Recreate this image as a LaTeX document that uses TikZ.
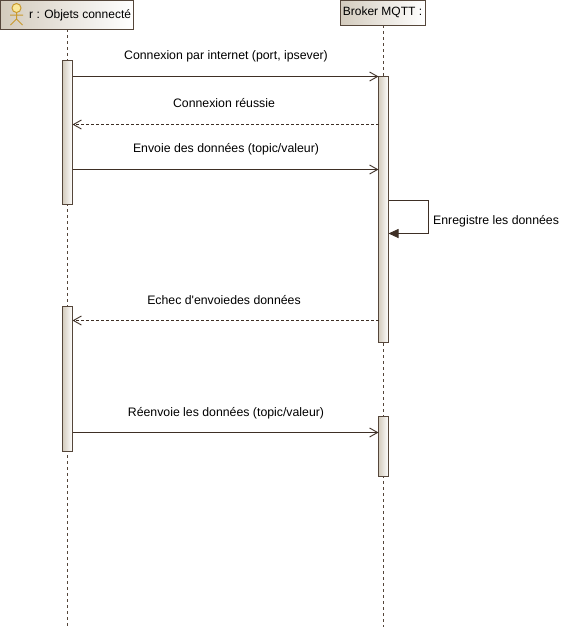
\documentclass[tikz,border=0pt]{standalone}
\usepackage{fontspec}
\setmainfont{Liberation Sans}
\usetikzlibrary{arrows.meta}

\definecolor{umlline}{HTML}{55463A}
\definecolor{umlarrow}{HTML}{3E2F25}
\definecolor{umltan}{HTML}{D3CBBD}
\definecolor{actorgold}{HTML}{C99A2E}
\definecolor{actorhead}{HTML}{FBE89A}

\tikzset{
	lifebox/.style={shape=rectangle,draw=umlline,line width=1pt,left color=umltan,right color=white,inner sep=0pt,outer sep=0pt,minimum height=25pt,font=\fontsize{12}{14}\selectfont},
	activation/.style={shape=rectangle,draw=umlline,line width=1pt,left color=umltan,right color=white,inner sep=0pt,outer sep=0pt,minimum width=10pt},
	lifeline/.style={color=umlline,line width=0.8pt,dash pattern=on 3pt off 3pt},
	msgsync/.style={-{Straight Barb[length=8pt,width=9pt]},color=umlarrow,line width=0.9pt},
	msgreply/.style={-{Straight Barb[length=8pt,width=9pt]},color=umlarrow,line width=0.9pt,dash pattern=on 3pt off 2pt},
	msgself/.style={-{Triangle[length=10pt,width=9pt]},color=umlarrow,line width=0.9pt},
	msglabel/.style={inner sep=0pt,font=\fontsize{12.3}{14}\selectfont},
}

\begin{document}
\begin{tikzpicture}[x=1pt,y=-1pt]
	\useasboundingbox (0,0) rectangle (572,627);

	\node[lifebox,minimum width=133pt,minimum height=29pt] (objets) at (66.5,14.5) {};
	\node[lifebox,minimum width=85pt] (broker) at (382.5,12.5) {Broker MQTT :};
	\node[inner sep=0pt,font=\fontsize{12}{14}\selectfont,anchor=west] (objetsname) at (29,15) {r : Objets connecté};

	% actor
	\draw[actorgold,line width=1pt,fill=actorhead] (16.5,8) circle (4.5);
	\draw[actorgold,line width=1pt] (16.5,12.5) -- (16.5,19) (10,15) -- (23,15) (10.5,25) -- (16.5,19) -- (22.5,25);

	\coordinate (endA) at (67.5,627);
	\coordinate (endB) at (383.5,627);
	\path[lifeline] (objets.south -| endA) edge (endA);
	\path[lifeline] (broker.south -| endB) edge (endB);

	\node[activation,minimum height=144pt] (actA) at (67.5,132.5) {};
	\node[activation,minimum height=145pt] (actC) at (67.5,378.5) {};
	\node[activation,minimum height=266pt] (actB) at (383.5,209.5) {};
	\node[activation,minimum height=60pt] (actD) at (383.5,446.5) {};

	\coordinate (m1) at (0,76.5);
	\coordinate (m2) at (0,124.5);
	\coordinate (m3) at (0,169.5);
	\coordinate (m4) at (0,320.5);
	\coordinate (m5) at (0,432.5);
	\coordinate (s1) at (0,200.5);
	\coordinate (s2) at (0,233.5);
	\coordinate (loop) at (428.5,0);

	\path[msgsync] (actA.east |- m1) edge (actB.west |- m1);
	\path[msgreply] (actB.west |- m2) edge (actA.east |- m2);
	\path[msgsync] (actA.east |- m3) edge (actB.west |- m3);
	\draw[msgself] (actB.east |- s1) -- (loop |- s1) -- (loop |- s2) -- (actB.east |- s2);
	\path[msgreply] (actB.west |- m4) edge (actC.east |- m4);
	\path[msgsync] (actC.east |- m5) edge (actD.west |- m5);

	\node[msglabel] (l1) at (226,56.5) {Connexion par internet (port, ipsever)};
	\node[msglabel] (l2) at (224,103.5) {Connexion réussie};
	\node[msglabel] (l3) at (226,149.5) {Envoie des données (topic/valeur)};
	\node[msglabel,anchor=west] (l4) at (433,221) {Enregistre les données};
	\node[msglabel] (l5) at (224,300) {Echec d\textquotesingle envoiedes données};
	\node[msglabel] (l6) at (226,413) {Réenvoie les données (topic/valeur)};
\end{tikzpicture}
\end{document}
